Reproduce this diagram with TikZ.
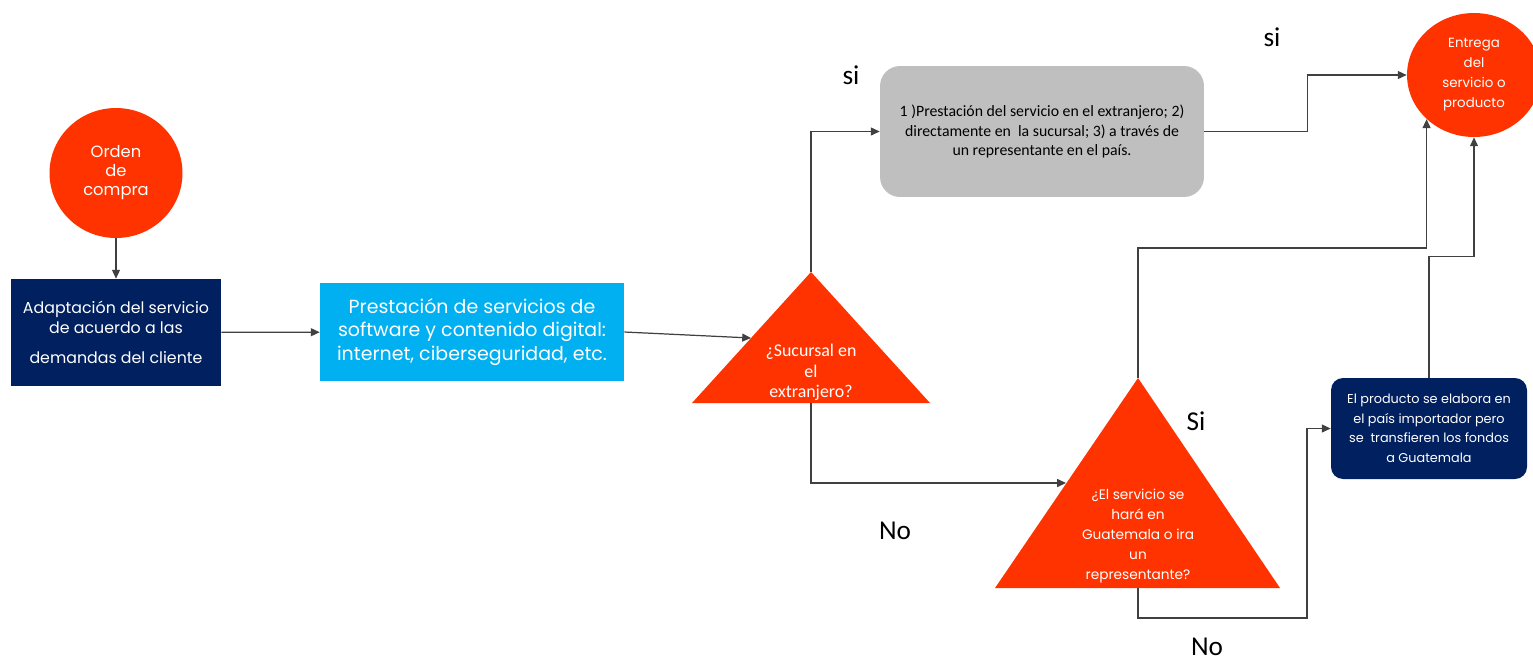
\documentclass[tikz,border=0pt]{standalone}
\usepackage{fontspec}
\setmainfont{Carlito}
\newfontfamily\gothic{Poppins}
\usetikzlibrary{shapes.geometric,arrows.meta}

\definecolor{rojo}{HTML}{FF3300}
\definecolor{marino}{HTML}{002060}
\definecolor{celeste}{HTML}{00B0F0}
\definecolor{gris}{HTML}{BFBFBF}

\begin{document}
\begin{tikzpicture}[
  x=0.02cm, y=-0.02cm,
  circ/.style={ellipse, fill=rojo, text=white, align=center, inner sep=0pt},
  caja/.style={rectangle, text=white, align=center, inner sep=0pt},
  tri/.style={fill=rojo},
  tritext/.style={text=white, align=center, inner sep=0pt},
  e/.style={draw=black!75, line width=0.7pt, -{Triangle[length=5pt,width=4.5pt]}},
  lbl/.style={font=\fontsize{15.5}{17}\selectfont}
]
\useasboundingbox (0,0) rectangle (1533,664);

% start and end
\node[circ, minimum width=2.66cm, minimum height=2.6cm,
  font=\gothic\fontsize{9.3}{10.8}\selectfont] (orden) at (116,173) {Orden\\de\\compra};
\node[circ, minimum width=2.68cm, minimum height=2.48cm,
  font=\gothic\fontsize{7.6}{11.4}\selectfont] (entrega) at (1474,75) {Entrega\\del\\servicio o\\producto};

% boxes
\node[caja, fill=marino, minimum width=4.2cm, minimum height=2.14cm,
  font=\gothic\fontsize{9}{11.4}\selectfont] (adapt) at (116,332.5)
  {Adaptación del servicio\\de acuerdo a las\\[5.7pt]demandas del cliente};
\node[caja, fill=celeste, minimum width=6.08cm, minimum height=1.96cm,
  font=\gothic\fontsize{10.8}{13.4}\selectfont] (prest) at (472,332)
  {Prestación de servicios de\\software y contenido digital:\\internet, ciberseguridad, etc.};
\node[caja, fill=gris, text=black, rounded corners=0.4cm, minimum width=6.48cm, minimum height=2.62cm,
  font=\fontsize{9}{11.2}\selectfont] (opc) at (1042,131.5)
  {1 )Prestación del servicio en el extranjero; 2)\\directamente en\ \ la sucursal; 3) a través de\\un representante en el país.};
\node[caja, fill=marino, rounded corners=0.24cm, minimum width=3.92cm, minimum height=2.02cm,
  font=\gothic\fontsize{7.3}{11.1}\selectfont] (prod) at (1429,428.5)
  {El producto se elabora en\\el país importador pero\\se\ \ transfieren los fondos\\a Guatemala};

% decision triangles
\coordinate (sucTop) at (811,272);
\coordinate (sucBot) at (811,403);
\coordinate (sucIn) at (751,338);
\fill[tri] (sucTop) -- (930,403) -- (692,403) -- cycle;
\node[tritext, font=\fontsize{10.2}{11.7}\selectfont] (suc) at (811,372.5) {¿Sucursal en\\el\\extranjero?};

\coordinate (gtTop) at (1138,378);
\coordinate (gtBot) at (1138,588);
\coordinate (gtIn) at (1066,483);
\fill[tri] (gtTop) -- (1280,588) -- (995,588) -- cycle;
\node[tritext, font=\gothic\fontsize{7.8}{11.4}\selectfont] (gt) at (1138,536)
  {¿El servicio se\\hará en\\Guatemala o ira\\un\\representante?};

% connectors
\draw[e] (orden) -- (adapt);
\draw[e] (adapt) -- (prest);
\draw[e] (prest.east) -- (sucIn);
\draw[e] (sucTop) |- (opc.west);
\draw[e] (opc.east) -- ++(103,0) |- (entrega.west);
\draw[e] (sucBot) |- (gtIn);
\draw[e] (gtTop) -- ++(0,-130) -| (entrega.223);
\draw[e] (gtBot) |- ++(169,30) |- (prod.west);
\draw[e] (prod.north) -- ++(0,-121) -| (entrega.south);

% labels
\node[lbl] (si1) at (851,75) {si};
\node[lbl] (si2) at (1272,37) {si};
\node[lbl] (no1) at (895,531) {No};
\node[lbl] (si3) at (1196,421) {Si};
\node[lbl] (no2) at (1207,647) {No};

\end{tikzpicture}
\end{document}
